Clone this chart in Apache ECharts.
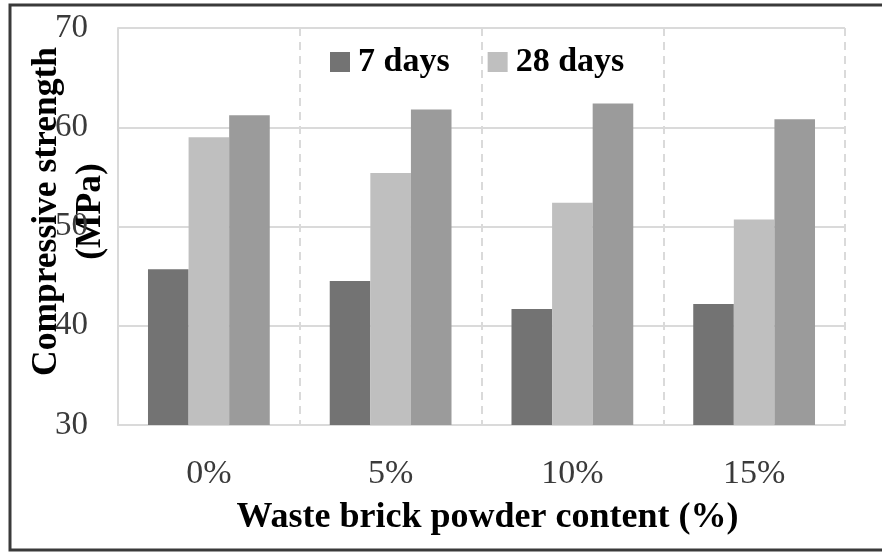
<!DOCTYPE html>
<html>
<head>
<meta charset="utf-8">
<script src="https://cdn.jsdelivr.net/npm/echarts@6/dist/echarts.min.js"></script>
<style>
  html, body { margin: 0; padding: 0; background: #fff; }
  #chart { width: 882px; height: 552px; }
</style>
</head>
<body>
<div id="chart"></div>
<script>
// data
var categories = ["0%", "5%", "10%", "15%"];
var days7 = [45.7, 44.5, 41.7, 42.2];
var days28 = [59.0, 55.4, 52.4, 50.7];
var laterAge = [61.2, 61.8, 62.4, 60.8];
var yTicks = { min: 30, max: 70, interval: 10 };

var serif = "Liberation Serif";
var gridColor = "#dadada";

var myChart = echarts.init(document.getElementById("chart"));
var option = {
  animation: false,
  backgroundColor: "#fff",
  legend: {
    data: ["7 days", "28 days"],
    left: 325,
    top: 40,
    itemWidth: 20,
    itemHeight: 20,
    itemGap: 38,
    icon: "rect",
    textStyle: {
      fontFamily: serif,
      fontWeight: "bold",
      fontSize: 34,
      color: "#000",
      padding: [0, 0, 0, 3]
    }
  },
  grid: {
    left: 118,
    right: 37,
    top: 28,
    bottom: 127,
    containLabel: false,
    outerBoundsMode: "none"
  },
  xAxis: {
    type: "category",
    data: categories,
    boundaryGap: true,
    axisLine: { show: true, lineStyle: { color: gridColor, width: 2 } },
    axisTick: { show: false },
    axisLabel: {
      margin: 32,
      fontFamily: serif,
      fontSize: 34,
      color: "#3a3a3a"
    },
    splitLine: {
      show: true,
      lineStyle: { color: gridColor, width: 2, type: [8, 6] }
    },
    name: "Waste brick powder content (%)",
    nameLocation: "middle",
    nameGap: 75,
    nameMoveOverlap: false,
    nameTextStyle: {
      fontFamily: serif,
      fontWeight: "bold",
      fontSize: 36,
      color: "#000",
      padding: [0, 0, 0, 12]
    }
  },
  yAxis: {
    type: "value",
    min: yTicks.min,
    max: yTicks.max,
    interval: yTicks.interval,
    axisLine: { show: true, lineStyle: { color: gridColor, width: 2 } },
    axisTick: { show: false },
    axisLabel: {
      margin: 30,
      fontFamily: serif,
      fontSize: 33,
      color: "#3a3a3a"
    },
    splitLine: {
      show: true,
      lineStyle: { color: gridColor, width: 2, type: "solid" }
    },
    name: "Compressive strength\n(MPa)",
    nameLocation: "middle",
    nameRotate: 90,
    nameGap: 5,
    nameMoveOverlap: false,
    nameTextStyle: {
      fontFamily: serif,
      fontWeight: "bold",
      fontSize: 35.5,
      lineHeight: 44,
      color: "#000",
      align: "center",
      // shift the title a little above the axis middle, like the original
      padding: [0, 0, 0, 30]
    }
  },
  series: [
    {
      name: "7 days",
      type: "bar",
      data: days7,
      barGap: "0%",
      barCategoryGap: "33%",
      itemStyle: { color: "#737373" }
    },
    {
      name: "28 days",
      type: "bar",
      data: days28,
      itemStyle: { color: "#bfbfbf" }
    },
    {
      name: "Later age",
      type: "bar",
      data: laterAge,
      itemStyle: { color: "#9b9b9b" }
    }
  ],
  graphic: [
    {
      type: "rect",
      silent: true,
      shape: { x: 10, y: 5, width: 890, height: 545 },
      style: { fill: "none", stroke: "#3a3a3a", lineWidth: 3 },
      z: 100
    }
  ]
};
myChart.setOption(option, true);
window.addEventListener("resize", function () {
  myChart.resize();
});
</script>
</body>
</html>
